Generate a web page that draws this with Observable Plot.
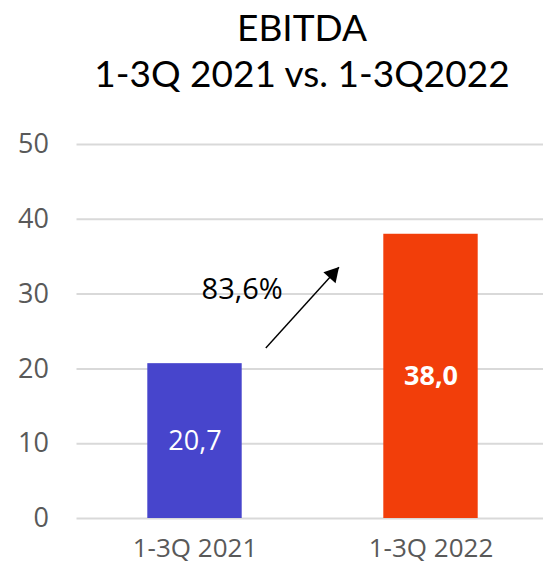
<!DOCTYPE html>
<html>
<head>
<meta charset="utf-8">
<script src="https://cdn.jsdelivr.net/npm/d3@7"></script>
<script src="https://cdn.jsdelivr.net/npm/@observablehq/plot@0.6"></script>
<style>
  html, body { margin: 0; padding: 0; background: #fff; width: 543px; height: 562px; overflow: hidden; position: relative; }
  #title { position: absolute; left: 0; top: 0; width: 543px; box-sizing: border-box; padding-left: 61px; padding-top: 4px;
           text-align: center; font-family: Lato, "Open Sans", sans-serif; font-size: 37px; line-height: 46px; color: #000; }
  #chart { position: absolute; left: 0; top: 110px; width: 549px; }
  #chart svg { max-width: none !important; width: 549px !important; height: 452px !important; }
</style>
</head>
<body>
<div id="title">EBITDA<br>1-3Q 2021 vs. 1-3Q2022</div>
<div id="chart"></div>
<script>
// ---- data ----
const categories = ["1-3Q 2021", "1-3Q 2022"];
const values = [20.7, 38.0];
const valueLabels = ["20,7", "38,0"];
const barColors = ["#4745CC", "#F23E0A"];
const labelBold = [false, true];
const yTicks = [0, 10, 20, 30, 40, 50];
const changeLabel = "83,6%";
// annotation arrow (x in category-index units, y in EBITDA units)
const arrowStart = {x: 0.8, y: 22.8};
const arrowEnd = {x: 1.11, y: 33.6};
const changeLabelPos = {x: 0.70, y: 30.6};

const bars = categories.map((c, i) => ({
  cat: c, i, value: values[i], label: valueLabels[i], color: barColors[i], bold: labelBold[i]
}));

// arrow head: triangle placed just behind the tip, rotated along the arrow
const yPx = (518 - 144) / 50, xPx = 236; // pixels per unit (for angle only)
const ddx = (arrowEnd.x - arrowStart.x) * xPx, ddy = (arrowEnd.y - arrowStart.y) * yPx;
const len = Math.hypot(ddx, ddy);
const angle = Math.atan2(ddx, ddy) * 180 / Math.PI;
const back = 9.4;
const head = [{x: arrowEnd.x - (ddx / len) * back / xPx, y: arrowEnd.y - (ddy / len) * back / yPx}];

const chart = Plot.plot({
  width: 549,
  height: 452,
  marginLeft: 76.5,
  marginRight: 0.5,
  marginTop: 34,
  marginBottom: 44,
  style: {fontFamily: "'Open Sans', sans-serif", background: "#fff", overflow: "visible"},
  x: {domain: [0, 2], axis: null},
  y: {domain: [0, 50], axis: null},
  marks: [
    Plot.ruleY(yTicks, {stroke: "#d9d9d9", strokeWidth: 2}),
    Plot.axisY({ticks: yTicks, tickSize: 0, tickPadding: 28, fontSize: 27, fill: "#595959", textAnchor: "end"}),
    Plot.axisX({ticks: [0.5, 1.5], tickFormat: d => categories[Math.floor(d)], tickSize: 0, tickPadding: 20, fontSize: 26, fill: "#595959"}),
    Plot.rectY(bars, {x1: d => d.i + 0.3, x2: d => d.i + 0.7, y1: 0, y2: "value", fill: "color"}),
    Plot.text(bars.filter(d => !d.bold), {x: d => d.i + 0.5, y: d => d.value / 2, text: "label", fill: "#fff", fontSize: 27}),
    Plot.text(bars.filter(d => d.bold), {x: d => d.i + 0.5, y: d => d.value / 2, text: "label", fill: "#fff", fontSize: 27, fontWeight: "bold"}),
    Plot.text([changeLabelPos], {x: "x", y: "y", text: () => changeLabel, fill: "#000", fontSize: 29}),
    Plot.link([{...arrowStart, x2: arrowEnd.x, y2: arrowEnd.y}], {x1: "x", y1: "y", x2: "x2", y2: "y2", stroke: "#000", strokeWidth: 1.4}),
    Plot.dot(head, {x: "x", y: "y", symbol: "triangle", r: 6.1, fill: "#000", stroke: "none", rotate: angle})
  ]
});
document.getElementById("chart").appendChild(chart);
</script>
</body>
</html>
